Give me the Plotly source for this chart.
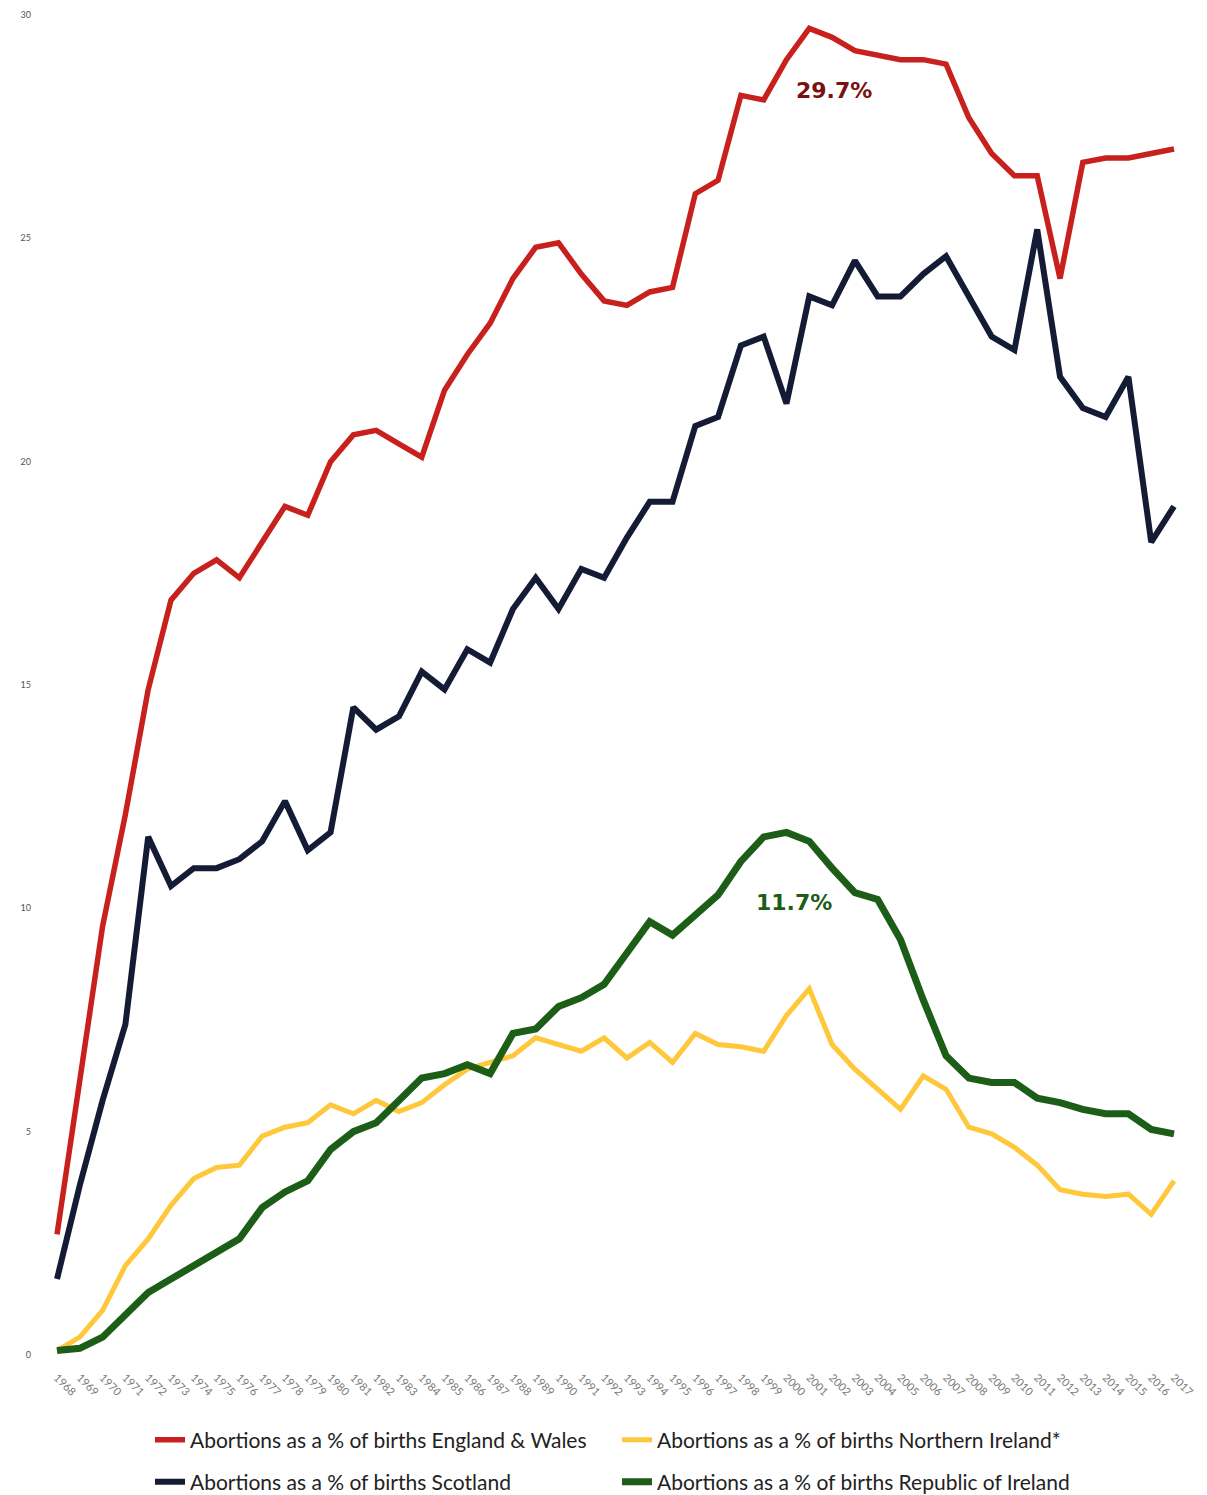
import plotly.graph_objects as go

# Years covered by the series
years = list(range(1968, 2018))

# Abortions as a % of births, by jurisdiction
england_wales = [2.7, 6.1, 9.6, 12.1, 14.9, 16.9, 17.5, 17.8, 17.4, 18.2,
                 19.0, 18.8, 20.0, 20.6, 20.7, 20.4, 20.1, 21.6, 22.4, 23.1,
                 24.1, 24.8, 24.9, 24.2, 23.6, 23.5, 23.8, 23.9, 26.0, 26.3,
                 28.2, 28.1, 29.0, 29.7, 29.5, 29.2, 29.1, 29.0, 29.0, 28.9,
                 27.7, 26.9, 26.4, 26.4, 24.1, 26.7, 26.8, 26.8, 26.9, 27.0]

scotland = [1.7, 3.8, 5.7, 7.4, 11.6, 10.5, 10.9, 10.9, 11.1, 11.5,
            12.4, 11.3, 11.7, 14.5, 14.0, 14.3, 15.3, 14.9, 15.8, 15.5,
            16.7, 17.4, 16.7, 17.6, 17.4, 18.3, 19.1, 19.1, 20.8, 21.0,
            22.6, 22.8, 21.3, 23.7, 23.5, 24.5, 23.7, 23.7, 24.2, 24.6,
            23.7, 22.8, 22.5, 25.2, 21.9, 21.2, 21.0, 21.9, 18.2, 19.0]

northern_ireland = [0.1, 0.4, 1.0, 2.0, 2.6, 3.35, 3.95, 4.2, 4.25, 4.9,
                    5.1, 5.2, 5.6, 5.4, 5.7, 5.45, 5.65, 6.05, 6.4, 6.55,
                    6.7, 7.1, 6.95, 6.8, 7.1, 6.65, 7.0, 6.55, 7.2, 6.95,
                    6.9, 6.8, 7.6, 8.2, 6.95, 6.4, 5.95, 5.5, 6.25, 5.95,
                    5.1, 4.95, 4.65, 4.25, 3.7, 3.6, 3.55, 3.6, 3.15, 3.9]

republic_ireland = [0.1, 0.15, 0.4, 0.9, 1.4, 1.7, 2.0, 2.3, 2.6, 3.3,
                    3.65, 3.9, 4.6, 5.0, 5.2, 5.7, 6.2, 6.3, 6.5, 6.3,
                    7.2, 7.3, 7.8, 8.0, 8.3, 9.0, 9.7, 9.4, 9.85, 10.3,
                    11.05, 11.6, 11.7, 11.5, 10.9, 10.35, 10.2, 9.3, 7.95, 6.7,
                    6.2, 6.1, 6.1, 5.75, 5.65, 5.5, 5.4, 5.4, 5.05, 4.95]

y_ticks = [0, 5, 10, 15, 20, 25, 30]

series_names = {
    "ew": "Abortions as a % of births England & Wales",
    "ni": "Abortions as a % of births Northern Ireland*",
    "sc": "Abortions as a % of births Scotland",
    "roi": "Abortions as a % of births Republic of Ireland",
}

RED = "#c8211d"
NAVY = "#141b35"
YELLOW = "#ffc83a"
GREEN = "#1c5e17"

fig = go.Figure()

# Drawing order: yellow under green, navy under red
fig.add_trace(go.Scatter(x=years, y=northern_ireland, mode="lines",
                         name=series_names["ni"], legend="legend", legendrank=2,
                         line=dict(color=YELLOW, width=5)))
fig.add_trace(go.Scatter(x=years, y=republic_ireland, mode="lines",
                         name=series_names["roi"], legend="legend2", legendrank=2,
                         line=dict(color=GREEN, width=7)))
fig.add_trace(go.Scatter(x=years, y=scotland, mode="lines",
                         name=series_names["sc"], legend="legend2", legendrank=1,
                         line=dict(color=NAVY, width=6)))
fig.add_trace(go.Scatter(x=years, y=england_wales, mode="lines",
                         name=series_names["ew"], legend="legend", legendrank=1,
                         line=dict(color=RED, width=5.5)))

# Peak value call-outs
ew_peak = max(england_wales)
ew_peak_year = years[england_wales.index(ew_peak)]
roi_peak = max(republic_ireland)
roi_peak_year = years[republic_ireland.index(roi_peak)]

fig.add_annotation(x=ew_peak_year, y=ew_peak, text=f"{ew_peak:.1f}%",
                   showarrow=False, xshift=25, yshift=-62,
                   font=dict(family="DejaVu Sans", size=22, color="#7a1010",
                             weight="bold"))
fig.add_annotation(x=roi_peak_year, y=roi_peak, text=f"{roi_peak:.1f}%",
                   showarrow=False, xshift=8, yshift=-70,
                   font=dict(family="DejaVu Sans", size=22, color="#1c5e17",
                             weight="bold"))

legend_common = dict(orientation="h", xref="container", yref="container",
                     xanchor="left", yanchor="middle",
                     entrywidthmode="pixels", entrywidth=422,
                     bgcolor="rgba(0,0,0,0)",
                     font=dict(family="Lato", size=21, color="#222222"))

fig.update_layout(
    width=1207, height=1495,
    margin=dict(l=32, r=20, t=10, b=135),
    paper_bgcolor="white", plot_bgcolor="white",
    showlegend=True,
    legend=dict(x=150 / 1207, y=1 - 1440 / 1495, **legend_common),
    legend2=dict(x=150 / 1207, y=1 - 1482 / 1495, **legend_common),
    xaxis=dict(range=[1966.903, 2017.570], tickmode="array",
               tickvals=years, ticktext=[str(y) for y in years],
               tickangle=45, showgrid=False, zeroline=False, showline=False,
               ticks="", ticklabelstandoff=8,
               tickfont=dict(family="Lato", size=11, color="#777777")),
    yaxis=dict(range=[-0.112, 30.112], tickmode="array", tickvals=y_ticks,
               showgrid=False, zeroline=False, showline=False, ticks="",
               tickfont=dict(family="Lato", size=9, color="#555555")),
)

fig.write_html("out.html")
